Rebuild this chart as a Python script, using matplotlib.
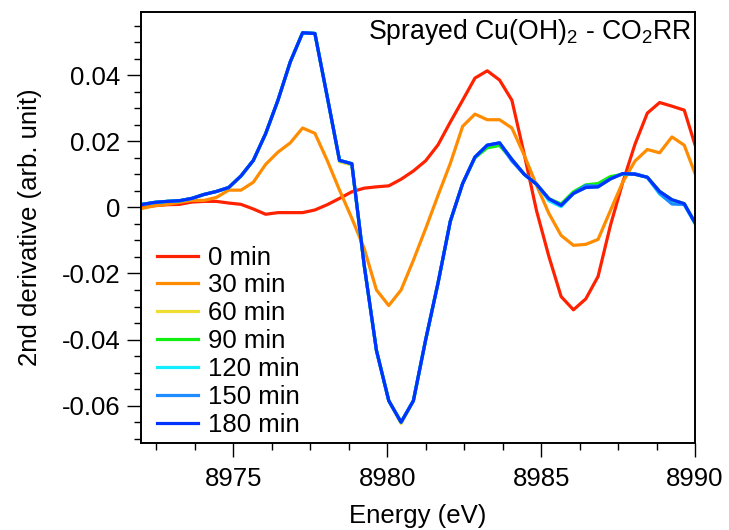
import matplotlib
matplotlib.use("Agg")
import matplotlib.pyplot as plt

plt.rcParams['font.family'] = ['Liberation Sans', 'DejaVu Sans']
plt.rcParams['mathtext.fontset'] = 'custom'
plt.rcParams['mathtext.rm'] = 'Liberation Sans'
plt.rcParams['mathtext.default'] = 'regular'

# energy grid (eV)
energy = [8971.65, 8972.05, 8972.45, 8972.85, 8973.25, 8973.65, 8974.05, 8974.45,
          8974.85, 8975.25, 8975.65, 8976.05, 8976.45, 8976.85, 8977.25, 8977.65,
          8978.05, 8978.45, 8978.85, 8979.25, 8979.65, 8980.05, 8980.45, 8980.85,
          8981.25, 8981.65, 8982.05, 8982.45, 8982.85, 8983.25, 8983.65, 8984.05,
          8984.45, 8984.85, 8985.25, 8985.65, 8986.05, 8986.45, 8986.85, 8987.25,
          8987.65, 8988.05, 8988.45, 8988.85, 8989.25, 8989.65, 8990.05]

d0 = [-0.0002, 0.0000, 0.0005, 0.0008, 0.0009, 0.0016, 0.0018, 0.0018,
      0.0013, 0.0009, -0.0005, -0.0021, -0.0016, -0.0016, -0.0016, -0.0008,
      0.0008, 0.0027, 0.0047, 0.0058, 0.0062, 0.0065, 0.0085, 0.0110,
      0.0141, 0.0189, 0.0258, 0.0324, 0.0391, 0.0413, 0.0385, 0.0324,
      0.0161, -0.0010, -0.0148, -0.0270, -0.0310, -0.0277, -0.0209, -0.0055,
      0.0075, 0.0191, 0.0285, 0.0317, 0.0306, 0.0294, 0.0174]

d30 = [-0.0006, -0.0003, 0.0005, 0.0009, 0.0015, 0.0021, 0.0021, 0.0030,
       0.0052, 0.0052, 0.0076, 0.0130, 0.0167, 0.0195, 0.0240, 0.0224,
       0.0142, 0.0052, -0.0033, -0.0124, -0.0250, -0.0297, -0.0250, -0.0160,
       -0.0064, 0.0036, 0.0133, 0.0245, 0.0282, 0.0265, 0.0265, 0.0240,
       0.0158, 0.0067, -0.0018, -0.0085, -0.0115, -0.0112, -0.0097, -0.0010,
       0.0076, 0.0140, 0.0175, 0.0165, 0.0213, 0.0188, 0.0090]

d60 = [0.0007, 0.0009, 0.0015, 0.0018, 0.0020, 0.0027, 0.0039, 0.0048,
       0.0060, 0.0095, 0.0142, 0.0223, 0.0324, 0.0440, 0.0528, 0.0526,
       0.0335, 0.0138, 0.0128, -0.0174, -0.0433, -0.0585, -0.0654, -0.0585,
       -0.0400, -0.0229, -0.0042, 0.0072, 0.0152, 0.0183, 0.0190, 0.0145,
       0.0100, 0.0070, 0.0026, 0.0006, 0.0042, 0.0060, 0.0062, 0.0086,
       0.0102, 0.0100, 0.0091, 0.0048, 0.0023, 0.0011, -0.0055]

d90 = [0.0007, 0.0009, 0.0015, 0.0018, 0.0020, 0.0027, 0.0039, 0.0048,
       0.0060, 0.0095, 0.0142, 0.0223, 0.0324, 0.0440, 0.0528, 0.0526,
       0.0335, 0.0142, 0.0132, -0.0174, -0.0433, -0.0585, -0.0650, -0.0585,
       -0.0400, -0.0229, -0.0042, 0.0072, 0.0150, 0.0180, 0.0187, 0.0145,
       0.0100, 0.0070, 0.0026, 0.0010, 0.0047, 0.0068, 0.0072, 0.0093,
       0.0100, 0.0100, 0.0091, 0.0048, 0.0023, 0.0011, -0.0055]

d120 = [0.0007, 0.0009, 0.0015, 0.0018, 0.0020, 0.0027, 0.0039, 0.0048,
        0.0060, 0.0095, 0.0142, 0.0223, 0.0324, 0.0440, 0.0528, 0.0526,
        0.0335, 0.0142, 0.0132, -0.0174, -0.0433, -0.0585, -0.0650, -0.0585,
        -0.0400, -0.0229, -0.0042, 0.0072, 0.0152, 0.0188, 0.0195, 0.0145,
        0.0100, 0.0070, 0.0020, 0.0002, 0.0042, 0.0060, 0.0062, 0.0086,
        0.0102, 0.0100, 0.0091, 0.0040, 0.0012, 0.0008, -0.0058]

d150 = [0.0007, 0.0009, 0.0015, 0.0018, 0.0020, 0.0027, 0.0039, 0.0048,
        0.0060, 0.0095, 0.0142, 0.0223, 0.0324, 0.0440, 0.0528, 0.0526,
        0.0335, 0.0142, 0.0132, -0.0174, -0.0433, -0.0585, -0.0650, -0.0585,
        -0.0400, -0.0229, -0.0042, 0.0072, 0.0152, 0.0188, 0.0195, 0.0140,
        0.0100, 0.0070, 0.0026, 0.0006, 0.0042, 0.0066, 0.0064, 0.0086,
        0.0102, 0.0102, 0.0091, 0.0043, 0.0010, 0.0009, -0.0055]

d180 = [0.0007, 0.0009, 0.0015, 0.0018, 0.0020, 0.0027, 0.0039, 0.0048,
        0.0060, 0.0095, 0.0142, 0.0223, 0.0324, 0.0440, 0.0528, 0.0526,
        0.0335, 0.0142, 0.0132, -0.0174, -0.0433, -0.0585, -0.0650, -0.0585,
        -0.0400, -0.0229, -0.0042, 0.0072, 0.0152, 0.0188, 0.0195, 0.0145,
        0.0100, 0.0070, 0.0026, 0.0006, 0.0042, 0.0060, 0.0062, 0.0086,
        0.0102, 0.0100, 0.0091, 0.0048, 0.0023, 0.0011, -0.0055]

labels = ['0 min', '30 min', '60 min', '90 min', '120 min', '150 min', '180 min']
series = [d0, d30, d60, d90, d120, d150, d180]
colors = ['#ff2200', '#ff8c00', '#eedd33', '#11ee11', '#11eeff', '#1e8cff', '#0033ff']

fs = 18.5
fig = plt.figure(figsize=(7.29, 5.30), dpi=100)
ax = fig.add_axes([0.1934, 0.1647, 0.76, 0.8121])

for y, c, lab in zip(series, colors, labels):
    ax.plot(energy, y, color=c, lw=2.3, label=lab)

ax.set_xlim(8972, 8990)
ax.set_ylim(-0.0712, 0.059)
ax.set_xticks([8975, 8980, 8985, 8990])
ax.set_xticks([8972.5 + 1.25 * i for i in range(15)], minor=True)
ax.set_yticks([-0.06, -0.04, -0.02, 0, 0.02, 0.04])
ax.set_yticklabels(['-0.06', '-0.04', '-0.02', '0', '0.02', '0.04'])
ax.set_yticks([-0.07 + 0.005 * i for i in range(26)], minor=True)

ax.tick_params(which='major', direction='out', length=10, width=1.0, labelsize=fs, pad=5)
ax.tick_params(axis='x', which='major', pad=7.5)
ax.tick_params(which='minor', direction='out', length=5, width=1.0)
for s in ax.spines.values():
    s.set_linewidth(1.4)

ax.set_xlabel('Energy (eV)', fontsize=fs, labelpad=9)
ax.set_ylabel('2nd derivative (arb. unit)', fontsize=fs, labelpad=14)

ax.text(0.9946, 0.938, r'Sprayed Cu(OH)$_2$ - CO$_2$RR', transform=ax.transAxes,
        ha='right', va='baseline', fontsize=19.2)

ax.legend(loc='upper left', bbox_to_anchor=(0.028, 0.458), frameon=False,
          fontsize=fs, handlelength=1.6, handletextpad=0.4, labelspacing=0.15,
          borderpad=0, borderaxespad=0)

fig.savefig('out.png', dpi=100)
